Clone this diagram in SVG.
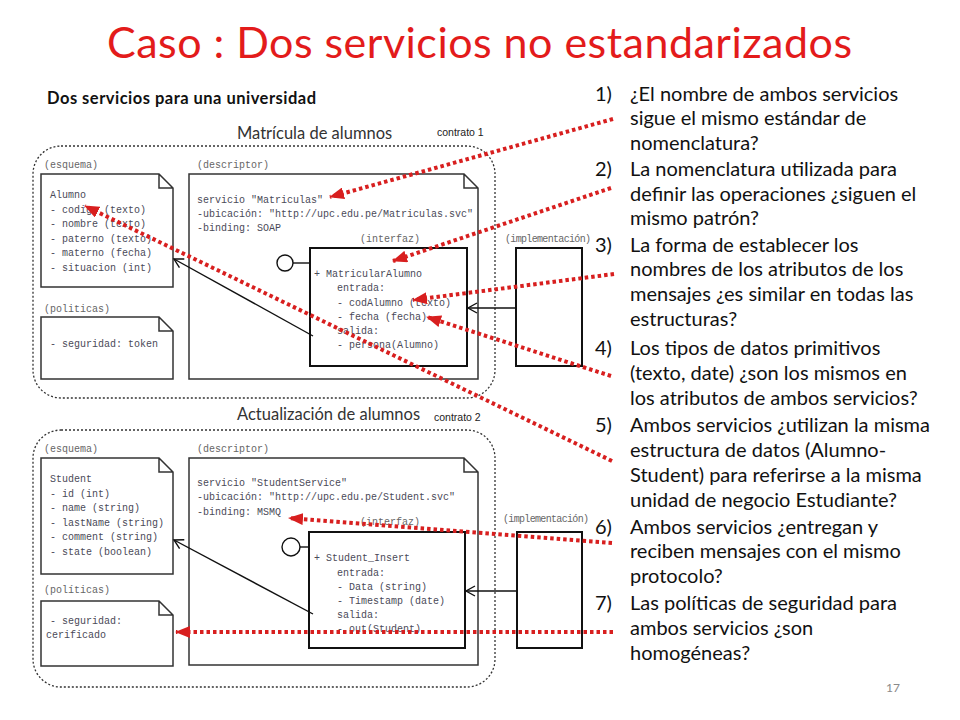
<svg xmlns="http://www.w3.org/2000/svg" width="960" height="720" viewBox="0 0 960 720">
<defs>
<marker id="redhead" markerUnits="userSpaceOnUse" markerWidth="16" markerHeight="12" refX="14" refY="6" orient="auto">
<path d="M0,0 L15,6 L0,12 Z" fill="#d81f1f"/>
</marker>
<marker id="openhead" markerUnits="userSpaceOnUse" markerWidth="12" markerHeight="12" refX="10" refY="6" orient="auto">
<path d="M1,1 L10,6 L1,11" fill="none" stroke="#111" stroke-width="1.4"/>
</marker>
</defs>
<style>
.title{font-family:Lato,"Liberation Sans",sans-serif;font-size:43px;fill:#e31b1b}
.sub{font-family:Lato,"Liberation Sans",sans-serif;font-size:16.5px;font-weight:bold;fill:#111}
.cap{font-family:Lato,"Liberation Sans",sans-serif;font-size:16.5px;fill:#333}
.ctr{font-family:"Liberation Sans",Arial,sans-serif;font-size:10.5px;fill:#222}
.q{font-family:Lato,"Liberation Sans",sans-serif;font-size:20px;fill:#111}
.mono{font-family:"Liberation Mono","Courier New",monospace;font-size:10px;fill:#4a4a58}
.lbl{font-family:"Liberation Mono","Courier New",monospace;font-size:10px;fill:#666}
.note{fill:#fff;stroke:#333;stroke-width:1.5}
.box{fill:#fff;stroke:#111;stroke-width:2}
.bound{fill:none;stroke:#333;stroke-width:1.3;stroke-dasharray:2 2}
.blk{fill:none;stroke:#111;stroke-width:1.4}
.red{fill:none;stroke:#d81f1f;stroke-width:4;stroke-dasharray:3.5 3}
.pg{font-family:Lato,"Liberation Sans",sans-serif;font-size:12px;fill:#8a8a8a}
</style>
<rect width="960" height="720" fill="#fff"/>
<text class="title" x="107" y="58" textLength="745">Caso : Dos servicios no estandarizados</text>
<text class="sub" x="47" y="104" textLength="269">Dos servicios para una universidad</text>

<g id="contrato1">
<rect class="bound" x="33" y="146" width="462" height="252" rx="28"/>
<text class="cap" x="237" y="139">Matrícula de alumnos</text>
<text class="ctr" x="437" y="136">contrato 1</text>
</g>
<g id="esquema1">
<text class="lbl" x="44" y="168">(esquema)</text>
<path class="note" d="M41,174 H159 L173,188 V287 H41 Z M159,174 V188 H173"/>
<text class="mono" x="50" y="198">Alumno</text>
<text class="mono" x="50" y="212.5">- codigo (texto)</text>
<text class="mono" x="50" y="227">- nombre (texto)</text>
<text class="mono" x="50" y="241.5">- paterno (texto)</text>
<text class="mono" x="50" y="256">- materno (fecha)</text>
<text class="mono" x="50" y="270.5">- situacion (int)</text>
</g>
<g id="politicas1">
<text class="lbl" x="44" y="312">(politicas)</text>
<path class="note" d="M41,317 H159 L173,331 V379 H41 Z M159,317 V331 H173"/>
<text class="mono" x="50" y="347">- seguridad: token</text>
</g>
<g id="descriptor1">
<text class="lbl" x="197" y="168">(descriptor)</text>
<path class="note" d="M189,174 H464 L478,188 V379 H189 Z M464,174 V188 H478"/>
<text class="mono" x="197" y="203">servicio "Matriculas"</text>
<text class="mono" x="197" y="217">-ubicación: "http://upc.edu.pe/Matriculas.svc"</text>
<text class="mono" x="197" y="231">-binding: SOAP</text>
</g>
<g id="interfaz1">
<text class="lbl" x="360" y="242">(interfaz)</text>
<rect class="box" x="310" y="248" width="157" height="118"/>
<circle cx="285" cy="263" r="8" fill="#fff" stroke="#111" stroke-width="1.4"/>
<line x1="293" y1="263" x2="310" y2="263" stroke="#111" stroke-width="1.4"/>
<text class="mono" x="314" y="277">+ MatricularAlumno</text>
<text class="mono" x="337" y="291">entrada:</text>
<text class="mono" x="337" y="306">- codAlumno (texto)</text>
<text class="mono" x="337" y="320">- fecha (fecha)</text>
<text class="mono" x="337" y="334">salida:</text>
<text class="mono" x="337" y="348">- persona(Alumno)</text>
</g>
<g id="implementacion1">
<text class="lbl" x="505" y="242" textLength="86">(implementación)</text>
<rect class="box" x="516" y="248" width="66" height="118"/>
</g>

<g id="contrato2">
<rect class="bound" x="33" y="430" width="462" height="257" rx="28"/>
<text class="cap" x="237" y="420">Actualización de alumnos</text>
<text class="ctr" x="434" y="421">contrato 2</text>
</g>
<g id="esquema2">
<text class="lbl" x="44" y="452">(esquema)</text>
<path class="note" d="M41,458 H159 L173,472 V574 H41 Z M159,458 V472 H173"/>
<text class="mono" x="50" y="482">Student</text>
<text class="mono" x="50" y="497">- id (int)</text>
<text class="mono" x="50" y="511">- name (string)</text>
<text class="mono" x="50" y="526">- lastName (string)</text>
<text class="mono" x="50" y="540">- comment (string)</text>
<text class="mono" x="50" y="555">- state (boolean)</text>
</g>
<g id="politicas2">
<text class="lbl" x="44" y="593">(políticas)</text>
<path class="note" d="M41,601 H159 L173,615 V666 H41 Z M159,601 V615 H173"/>
<text class="mono" x="50" y="624">- seguridad:</text>
<text class="mono" x="46" y="638">cerificado</text>
</g>
<g id="descriptor2">
<text class="lbl" x="197" y="452">(descriptor)</text>
<path class="note" d="M189,458 H464 L478,472 V665 H189 Z M464,458 V472 H478"/>
<text class="mono" x="197" y="486">servicio "StudentService"</text>
<text class="mono" x="197" y="500">-ubicación: "http://upc.edu.pe/Student.svc"</text>
<text class="mono" x="197" y="515">-binding: MSMQ</text>
</g>
<g id="interfaz2">
<text class="lbl" x="360" y="525">(interfaz)</text>
<rect class="box" x="309" y="532" width="156" height="116"/>
<circle cx="291" cy="547" r="9" fill="#fff" stroke="#111" stroke-width="1.4"/>
<line x1="300" y1="547" x2="309" y2="547" stroke="#111" stroke-width="1.4"/>
<text class="mono" x="314" y="561">+ Student_Insert</text>
<text class="mono" x="337" y="576">entrada:</text>
<text class="mono" x="337" y="590">- Data (string)</text>
<text class="mono" x="337" y="604">- Timestamp (date)</text>
<text class="mono" x="337" y="618">salida:</text>
<text class="mono" x="337" y="632">- out(Student)</text>
</g>
<g id="implementacion2">
<text class="lbl" x="503" y="522" textLength="86">(implementación)</text>
<rect class="box" x="517" y="532" width="65" height="116"/>
</g>

<g id="preguntas">
<text class="q" x="595" y="100.5">1)</text>
<text class="q" x="630" y="100.5">¿El nombre de ambos servicios</text>
<text class="q" x="630" y="125">sigue el mismo estándar de</text>
<text class="q" x="630" y="149.5">nomenclatura?</text>
<text class="q" x="595" y="176">2)</text>
<text class="q" x="630" y="176">La nomenclatura utilizada para</text>
<text class="q" x="630" y="200.5">definir las operaciones ¿siguen el</text>
<text class="q" x="630" y="225">mismo patrón?</text>
<text class="q" x="595" y="251.5">3)</text>
<text class="q" x="630" y="251.5">La forma de establecer los</text>
<text class="q" x="630" y="276">nombres de los atributos de los</text>
<text class="q" x="630" y="300.5">mensajes ¿es similar en todas las</text>
<text class="q" x="630" y="326">estructuras?</text>
<text class="q" x="595" y="355">4)</text>
<text class="q" x="630" y="355">Los tipos de datos primitivos</text>
<text class="q" x="630" y="380">(texto, date) ¿son los mismos en</text>
<text class="q" x="630" y="405">los atributos de ambos servicios?</text>
<text class="q" x="595" y="431.5">5)</text>
<text class="q" x="630" y="431.5">Ambos servicios ¿utilizan la misma</text>
<text class="q" x="630" y="456.5">estructura  de datos (Alumno-</text>
<text class="q" x="630" y="481.5">Student) para referirse  a la misma</text>
<text class="q" x="630" y="506.5">unidad de negocio Estudiante?</text>
<text class="q" x="595" y="534">6)</text>
<text class="q" x="630" y="534">Ambos servicios ¿entregan y</text>
<text class="q" x="630" y="558">reciben  mensajes con el mismo</text>
<text class="q" x="630" y="583">protocolo?</text>
<text class="q" x="595" y="610">7)</text>
<text class="q" x="630" y="610">Las políticas de seguridad para</text>
<text class="q" x="630" y="635">ambos servicios ¿son</text>
<text class="q" x="630" y="660">homogéneas?</text>
</g>

<g id="connectors">
<line class="blk" x1="516" y1="308" x2="468" y2="308" marker-end="url(#openhead)"/>
<line class="blk" x1="313" y1="336" x2="174" y2="259" marker-end="url(#openhead)"/>
<line class="blk" x1="517" y1="591" x2="466" y2="591" marker-end="url(#openhead)"/>
<line class="blk" x1="313" y1="614" x2="174" y2="540" marker-end="url(#openhead)"/>
<line class="red" x1="613" y1="119" x2="330" y2="197" marker-end="url(#redhead)"/>
<line class="red" x1="611" y1="188" x2="393" y2="261" marker-end="url(#redhead)"/>
<line class="red" x1="614" y1="274" x2="413" y2="300" marker-end="url(#redhead)"/>
<line class="red" x1="611" y1="376" x2="427" y2="317" marker-end="url(#redhead)"/>
<line class="red" x1="612" y1="461" x2="85" y2="206" marker-end="url(#redhead)"/>
<line class="red" x1="612" y1="543" x2="289" y2="518" marker-end="url(#redhead)"/>
<line class="red" x1="613" y1="632" x2="176" y2="632" marker-end="url(#redhead)"/>
</g>
<text class="pg" x="886" y="692">17</text>
</svg>
